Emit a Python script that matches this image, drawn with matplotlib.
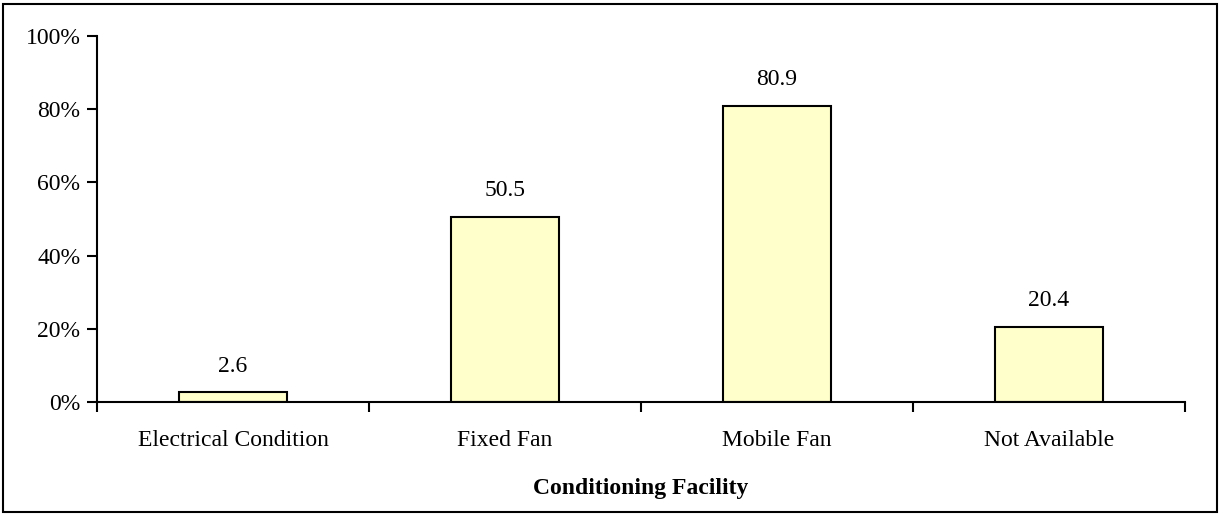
import matplotlib
matplotlib.use("Agg")
import matplotlib.pyplot as plt
from matplotlib.patches import Rectangle
from matplotlib.ticker import FixedLocator

plt.rcParams['font.family'] = ['Liberation Serif', 'DejaVu Serif']

categories = ["Electrical Condition", "Fixed Fan", "Mobile Fan", "Not Available"]
values = [2.6, 50.5, 80.9, 20.4]
yticks = [0, 20, 40, 60, 80, 100]
ytick_labels = ["0%", "20%", "40%", "60%", "80%", "100%"]
xlabel = "Conditioning Facility"

FS = 17
W, H = 1221, 516
fig = plt.figure(figsize=(W / 100, H / 100), dpi=100)
ax = fig.add_axes([97 / W, (H - 402) / H, (1185 - 97) / W, (402 - 36) / H])

x = list(range(len(categories)))
bars = ax.bar(x, values, width=0.4, color="#FFFFCC", edgecolor="black", linewidth=1.5)
for xi, v in zip(x, values):
    ax.annotate(f"{v}", (xi, v), xytext=(0, 11.5), textcoords="offset points",
                ha="center", va="bottom", fontsize=FS)

ax.set_xlim(-0.5, len(categories) - 0.5)
ax.set_ylim(0, 100)
ax.set_yticks(yticks)
ax.set_yticklabels(ytick_labels, fontsize=FS)
ax.set_xticks(x)
ax.set_xticklabels(categories, fontsize=FS)
ax.tick_params(axis="x", which="major", length=0, pad=20.5)
ax.xaxis.set_minor_locator(FixedLocator([i - 0.5 for i in range(len(categories) + 1)]))
ax.tick_params(axis="x", which="minor", length=7, width=1.5, direction="out")
ax.tick_params(axis="y", length=7, width=1.5, direction="out", pad=5)
for s in ["top", "right"]:
    ax.spines[s].set_visible(False)
for s in ["left", "bottom"]:
    ax.spines[s].set_linewidth(1.5)
ax.set_xlabel(xlabel, fontsize=FS, fontweight="bold", labelpad=19)

fig.patches.append(Rectangle((3 / W, 4 / H), 1214 / W, 508 / H, transform=fig.transFigure,
                             fill=False, edgecolor="black", linewidth=1.5))

fig.savefig("out.png", dpi=100)
